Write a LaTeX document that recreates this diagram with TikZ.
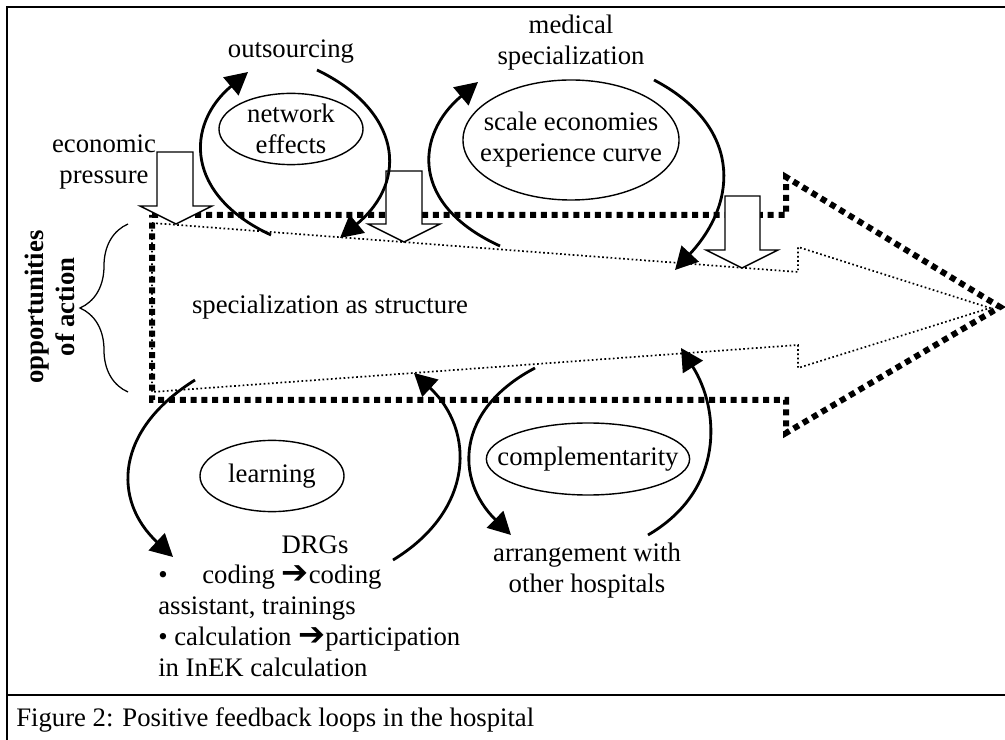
\documentclass[tikz,border=0pt]{standalone}
\usepackage{fontspec}
\setmainfont{Liberation Serif}
\newfontfamily\arrowfont{DejaVu Sans}
\usetikzlibrary{shapes.geometric,arrows.meta,decorations.pathreplacing}

\tikzset{
  effect/.style={ellipse, draw, line width=1pt, inner sep=0pt},
  feedback/.style={line width=2pt, -{Triangle[length=0.56cm, width=0.58cm]}},
  bigdots/.style={line width=0.15cm, dash pattern=on 0.15cm off 0.12cm},
  smalldots/.style={line width=1.2pt, dash pattern=on 1.2pt off 1.8pt},
  pushdown/.style={draw, line width=1pt, fill=white},
}

\begin{document}
\begin{tikzpicture}[x=0.025cm, y=-0.025cm, font=\fontsize{19}{22}\selectfont, inner sep=0pt]
  \useasboundingbox (0,0) rectangle (1005,740);

  % Frame and caption
  \draw[line width=1.5pt] (7,740) -- (7,7) -- (1005,7);
  \draw[line width=1.5pt] (7,695) -- (1005,695);
  \node[anchor=west] (caption) at (16,720) {Figure 2: Positive feedback loops in the hospital};

  % Big arrow - structure
  \draw[bigdots] (152,215) -- (786,215) -- (786,177) -- (1000,307) -- (786,433) -- (786,400) -- (152,400) -- cycle;
  \draw[smalldots] (152,223) -- (798,272) -- (798,247) -- (990,308) -- (798,368) -- (798,345) -- (152,392) -- cycle;
  \node (structure) at (330,307) {specialization as structure};

  % Opportunities of action
  \draw[line width=0.9pt, decorate, decoration={brace, amplitude=1.2cm}] (128,392) -- (128,224);
  \node[rotate=90, align=center, font=\fontsize{19}{22}\selectfont\bfseries] (action) at (50,307) {opportunities\\of action};

  % Economic pressure
  \node[align=center] (pressure) at (104,162) {economic\\pressure};
  \draw[pushdown] (157,152) -- (193,152) -- (193,206) -- (212,206) -- (176,224) -- (140,206) -- (157,206) -- cycle;
  \draw[pushdown] (386,171) -- (422,171) -- (422,224) -- (440,224) -- (404,242) -- (368,224) -- (386,224) -- cycle;
  \draw[pushdown] (725,196) -- (760,196) -- (760,250) -- (778,250) -- (742,268) -- (706,250) -- (725,250) -- cycle;

  % Loop 1 - network effects
  \node[effect, minimum width=3.6cm, minimum height=1.78cm] (network) at (291,129) {};
  \node[align=center] at (network) {network\\effects};
  \node (outsourcing) at (291,52) {outsourcing};
  \coordinate (nwA) at (271,235);
  \coordinate (nwB) at (248,72);
  \coordinate (nwC) at (317,70);
  \coordinate (nwD) at (340,238);
  \draw[feedback] (nwA) .. controls (185,195) and (185,125) .. (nwB);
  \draw[feedback] (nwC) .. controls (400,110) and (410,180) .. (nwD);

  % Loop 2 - scale economies
  \node[effect, minimum width=5.4cm, minimum height=3cm] (scale) at (571,140) {};
  \node[align=center] at (scale) {scale economies\\experience curve};
  \node[align=center] (medical) at (571,43) {medical\\specialization};
  \coordinate (scA) at (500,246);
  \coordinate (scB) at (478,82);
  \coordinate (scC) at (654,80);
  \coordinate (scD) at (675,270);
  \draw[feedback] (scA) .. controls (410,205) and (415,135) .. (scB);
  \draw[feedback] (scC) .. controls (740,125) and (740,200) .. (scD);

  % Loop 3 - learning
  \node[effect, minimum width=3.6cm, minimum height=1.78cm] (learning) at (272,476) {};
  \node at (learning) {learning};
  \node (drgs) at (315,545) {DRGs};
  \node[align=left, anchor=west] (drglist) at (158,621) {•\hspace{1.3em}coding {\arrowfont\fontsize{23}{22}\selectfont ➔}coding\\assistant, trainings\\• calculation {\arrowfont\fontsize{23}{22}\selectfont ➔}participation\\in InEK calculation};
  \coordinate (lnA) at (195,380);
  \coordinate (lnB) at (173,557);
  \coordinate (lnC) at (393,560);
  \coordinate (lnD) at (414,373);
  \draw[feedback] (lnA) .. controls (115,430) and (112,500) .. (lnB);
  \draw[feedback] (lnC) .. controls (475,510) and (475,430) .. (lnD);

  % Loop 4 - complementarity
  \node[effect, minimum width=5.08cm, minimum height=1.8cm] (complement) at (588,459) {};
  \node at (complement) {complementarity};
  \node[align=center] (hospitals) at (587,571) {arrangement with\\other hospitals};
  \coordinate (cpA) at (535,368);
  \coordinate (cpB) at (511,535);
  \coordinate (cpC) at (648,535);
  \coordinate (cpD) at (681,348);
  \draw[feedback] (cpA) .. controls (455,410) and (455,480) .. (cpB);
  \draw[feedback] (cpC) .. controls (725,490) and (720,410) .. (cpD);
\end{tikzpicture}
\end{document}
